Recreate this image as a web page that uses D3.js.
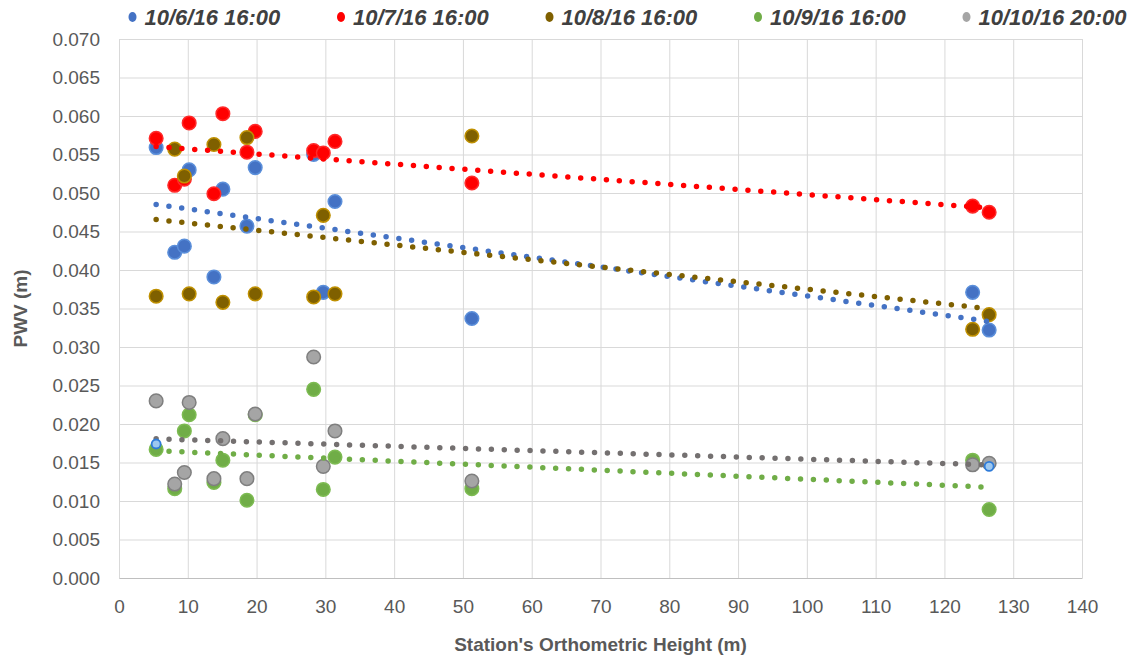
<!DOCTYPE html>
<html lang="en">
<head>
  <meta charset="UTF-8">
  <title>PWV vs Station Height</title>
  <script src="https://d3js.org/d3.v7.min.js"></script>
  <style>
    body {
      margin: 0;
      background: #fff;
      font-family: "Liberation Sans", Arial, sans-serif;
    }
    svg { display: block; }
    .tick text { fill: #595959; font-size: 19px; }
    .grid line { stroke: #d9d9d9; stroke-width: 1; }
    .grid path { stroke: none; }
    .trend { fill: none; stroke-linecap: round; stroke-width: 5.5; }
  </style>
</head>
<body>
  <svg width="1135" height="659"></svg>

  <script>
    // station heights (m)
    const heights = [5.4, 8.1, 9.5, 10.2, 13.8, 15.1, 18.6, 19.8, 28.3, 29.7, 31.4, 51.3, 124.1, 126.5];

    const pwv_1006 = [0.0559, 0.0423, 0.0431, 0.0530, 0.0391, 0.0505, 0.0457, 0.0533, 0.0550, 0.0371, 0.0489, 0.0337, 0.0371, 0.0322];
    const pwv_1007 = [0.0571, 0.0510, 0.0518, 0.0591, 0.0499, 0.0603, 0.0553, 0.0580, 0.0555, 0.0552, 0.0567, 0.0513, 0.0483, 0.0475];
    const pwv_1008 = [0.0366, 0.0557, 0.0522, 0.0369, 0.0563, 0.0358, 0.0572, 0.0369, 0.0365, 0.0471, 0.0369, 0.0574, 0.0323, 0.0342];
    const pwv_1009 = [0.0167, 0.0116, 0.0191, 0.0212, 0.0124, 0.0153, 0.0101, 0.0212, 0.0245, 0.0115, 0.0157, 0.0116, 0.0153, 0.0089];
    const pwv_1010 = [0.0230, 0.0122, 0.0137, 0.0228, 0.0129, 0.0181, 0.0129, 0.0213, 0.0287, 0.0145, 0.0191, 0.0126, 0.0147, 0.0149];

    // two stray small markers
    const extraX = [5.4, 126.5];
    const extraY = [0.0174, 0.0145];

    const seriesNames = ["10/6/16 16:00", "10/7/16 16:00", "10/8/16 16:00", "10/9/16 16:00", "10/10/16 20:00"];
    const seriesValues = [pwv_1006, pwv_1007, pwv_1008, pwv_1009, pwv_1010];
    const fills   = ["#4472C4", "#FF0000", "#7F6000", "#70AD47", "#A5A5A5"];
    const strokes = ["#5B8FDA", "#FF2A2A", "#BF9000", "#7DBB52", "#7F7F7F"];
    const trendColors = ["#4472C4", "#FF0000", "#7F6000", "#70AD47", "#747070"];

    const xTicks = [0, 10, 20, 30, 40, 50, 60, 70, 80, 90, 100, 110, 120, 130, 140];
    const yTicks = [0, 0.005, 0.010, 0.015, 0.020, 0.025, 0.030, 0.035, 0.040, 0.045, 0.050, 0.055, 0.060, 0.065, 0.070];

    const svg = d3.select("svg");
    const plotL = 119, plotR = 1082, plotT = 39, plotB = 578;

    const x = d3.scaleLinear().domain([0, 140]).range([plotL, plotR]);
    const y = d3.scaleLinear().domain([0, 0.07]).range([plotB, plotT]);

    // gridlines
    svg.append("g")
      .attr("class", "grid")
      .attr("transform", `translate(0,${plotB})`)
      .call(d3.axisBottom(x).tickValues(xTicks).tickSize(-(plotB - plotT)).tickFormat(""));

    svg.append("g")
      .attr("class", "grid")
      .attr("transform", `translate(${plotL},0)`)
      .call(d3.axisLeft(y).tickValues(yTicks).tickSize(-(plotR - plotL)).tickFormat(""));

    // axes (labels only)
    const xAxis = svg.append("g")
      .attr("transform", `translate(0,${plotB})`)
      .call(d3.axisBottom(x).tickValues(xTicks).tickSize(0).tickPadding(22).tickFormat(d3.format("d")));
    xAxis.select(".domain").attr("stroke", "#bfbfbf");

    const yAxis = svg.append("g")
      .attr("transform", `translate(${plotL},0)`)
      .call(d3.axisLeft(y).tickValues(yTicks).tickSize(0).tickPadding(19).tickFormat(d3.format(".3f")));
    yAxis.select(".domain").attr("stroke", "#d9d9d9");
    svg.selectAll(".tick text").attr("font-family", "Liberation Sans, Arial, sans-serif");

    // markers
    seriesValues.forEach((vals, s) => {
      svg.append("g").selectAll("circle")
        .data(vals)
        .enter().append("circle")
        .attr("cx", (d, i) => x(heights[i]))
        .attr("cy", d => y(d))
        .attr("r", 6.8)
        .attr("fill", fills[s])
        .attr("stroke", strokes[s])
        .attr("stroke-width", 1.5);
    });

    // linear trendlines
    seriesValues.forEach((vals, s) => {
      const mx = d3.mean(heights), my = d3.mean(vals);
      let sxy = 0, sxx = 0;
      heights.forEach((h, i) => { sxy += (h - mx) * (vals[i] - my); sxx += (h - mx) * (h - mx); });
      const slope = sxy / sxx, icpt = my - slope * mx;
      const ends = d3.extent(heights).map(h => ({ h: h, v: icpt + slope * h }));
      svg.append("path")
        .datum(ends)
        .attr("class", "trend")
        .attr("stroke", trendColors[s])
        .attr("stroke-dasharray", "0 12.9")
        .attr("d", d3.line().x(d => x(d.h)).y(d => y(d.v)));
    });

    // stray small markers
    svg.append("g").selectAll("circle")
      .data(extraY)
      .enter().append("circle")
      .attr("cx", (d, i) => x(extraX[i]))
      .attr("cy", d => y(d))
      .attr("r", 4.5)
      .attr("fill", "#9DC8F0")
      .attr("stroke", "#2E7BD9")
      .attr("stroke-width", 1.8);

    // legend
    const legend = svg.append("g");
    seriesNames.forEach((name, s) => {
      const lx = 132.5 + s * 208.5;
      legend.append("ellipse")
        .attr("cx", lx).attr("cy", 17)
        .attr("rx", 4).attr("ry", 5)
        .attr("fill", fills[s]);
      legend.append("text")
        .attr("x", lx + 12)
        .attr("y", 25)
        .attr("fill", "#404040")
        .attr("font-size", 22)
        .attr("font-weight", "bold")
        .attr("font-style", "italic")
        .text(name);
    });

    // axis titles
    svg.append("text")
      .attr("x", (plotL + plotR) / 2)
      .attr("y", 651)
      .attr("text-anchor", "middle")
      .attr("fill", "#595959")
      .attr("font-size", 19)
      .attr("font-weight", "bold")
      .text("Station's Orthometric Height (m)");

    svg.append("text")
      .attr("transform", `translate(27,${(plotT + plotB) / 2}) rotate(-90)`)
      .attr("text-anchor", "middle")
      .attr("fill", "#595959")
      .attr("font-size", 19)
      .attr("font-weight", "bold")
      .text("PWV (m)");
  </script>
</body>
</html>
